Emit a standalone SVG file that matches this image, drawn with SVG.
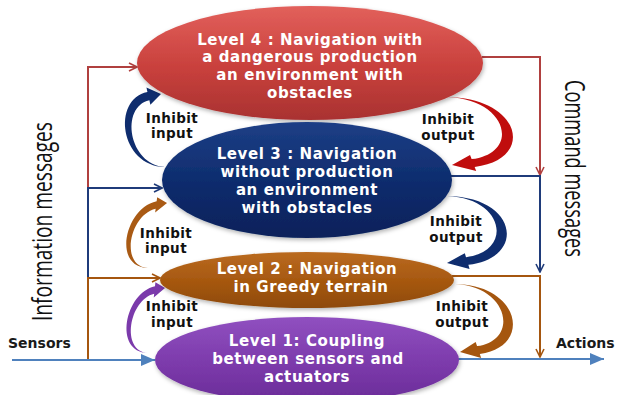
<svg xmlns="http://www.w3.org/2000/svg" width="617" height="395" viewBox="0 0 617 395">
<style>
  .node-text { font-family: "DejaVu Sans", "Verdana", sans-serif; font-weight: bold; font-size: 15px; letter-spacing: 0.6px; fill: #ffffff; text-anchor: middle; }
  .lbl { font-family: "DejaVu Sans", "Verdana", sans-serif; font-weight: bold; font-size: 13.5px; letter-spacing: 0.4px; fill: #111111; text-anchor: middle; }
  .io { font-family: "DejaVu Sans", "Verdana", sans-serif; font-weight: bold; font-size: 14px; fill: #1a1a1a; }
  .side { font-family: "Open Sans", "Liberation Sans", sans-serif; font-size: 28px; fill: #111111; }
  .ln { fill: none; stroke-width: 2; }
</style>
<defs>
  <filter id="sh" x="-10%" y="-10%" width="120%" height="130%">
    <feDropShadow dx="1" dy="2" stdDeviation="2" flood-color="#000" flood-opacity="0.3"/>
  </filter>
  <linearGradient id="gRed" x1="0" y1="0" x2="0" y2="1">
    <stop offset="0" stop-color="#e2605b"/>
    <stop offset="0.55" stop-color="#c8403c"/>
    <stop offset="1" stop-color="#a93231"/>
  </linearGradient>
  <linearGradient id="gNavy" x1="0" y1="0" x2="0" y2="1">
    <stop offset="0" stop-color="#1d3f86"/>
    <stop offset="0.55" stop-color="#0d2b6c"/>
    <stop offset="1" stop-color="#08215a"/>
  </linearGradient>
  <linearGradient id="gBrown" x1="0" y1="0" x2="0" y2="1">
    <stop offset="0" stop-color="#ba6a20"/>
    <stop offset="0.55" stop-color="#a5570f"/>
    <stop offset="1" stop-color="#8e4a0b"/>
  </linearGradient>
  <linearGradient id="gPurple" x1="0" y1="0" x2="0" y2="1">
    <stop offset="0" stop-color="#9050c0"/>
    <stop offset="0.55" stop-color="#7c3aab"/>
    <stop offset="1" stop-color="#6a2c98"/>
  </linearGradient>
  <marker id="mRed" viewBox="0 0 10 10" refX="9" refY="5" markerWidth="10" markerHeight="10" markerUnits="userSpaceOnUse" orient="auto">
    <path d="M1,1 L9,5 L1,9" fill="none" stroke="#b0403f" stroke-width="1.6"/>
  </marker>
  <marker id="mNavy" viewBox="0 0 10 10" refX="9" refY="5" markerWidth="10" markerHeight="10" markerUnits="userSpaceOnUse" orient="auto">
    <path d="M1,1 L9,5 L1,9" fill="none" stroke="#1f3b7a" stroke-width="1.6"/>
  </marker>
  <marker id="mBrown" viewBox="0 0 10 10" refX="9" refY="5" markerWidth="10" markerHeight="10" markerUnits="userSpaceOnUse" orient="auto">
    <path d="M1,1 L9,5 L1,9" fill="none" stroke="#a5560f" stroke-width="1.6"/>
  </marker>
  <marker id="mBlue" viewBox="0 0 10 10" refX="10" refY="5" markerWidth="14" markerHeight="12" markerUnits="userSpaceOnUse" orient="auto" preserveAspectRatio="none">
    <path d="M0,0 L10,5 L0,10 Z" fill="#4f81bd"/>
  </marker>
  <path id="arc" d="M0,0 C-46,-1 -50,-63 -12.7,-69.9 L-13.4,-74 L1,-68 L-10.6,-58 L-11.3,-62.1 C-42,-56 -37,-2 0,0 Z"/>
</defs>

<g id="connectors">
  <!-- information (left) -->
  <path class="ln" stroke="#b0403f" d="M88,188 V67 H137" marker-end="url(#mRed)"/>
  <path class="ln" stroke="#1f3b7a" d="M88,278 V188 H162" marker-end="url(#mNavy)"/>
  <path class="ln" stroke="#a5560f" d="M88,360 V278 H160" marker-end="url(#mBrown)"/>
  <path class="ln" stroke="#4f81bd" stroke-width="2.5" d="M12,360 H155" marker-end="url(#mBlue)"/>
  <!-- command (right) -->
  <path class="ln" stroke="#b0403f" d="M482,57 H540 V175" marker-end="url(#mRed)"/>
  <path class="ln" stroke="#1f3b7a" d="M451,176 H540 V272" marker-end="url(#mNavy)"/>
  <path class="ln" stroke="#a5560f" d="M452,276 H540 V357" marker-end="url(#mBrown)"/>
  <path class="ln" stroke="#4f81bd" stroke-width="2.5" d="M458,359 H604" marker-end="url(#mBlue)"/>
  <!-- inhibit input arcs -->
  <use href="#arc" fill="#0f2d6e" transform="matrix(0.98,0,0.0732,1.074,165,167)"/>
  <use href="#arc" fill="#a95a14" transform="matrix(0.794,0,-0.268,0.956,148,268)"/>
  <use href="#arc" fill="#7b3aab" transform="matrix(0.765,0,-0.239,0.956,148,353)"/>
  <!-- inhibit output arcs -->
  <use href="#arc" fill="#c00d0d" transform="matrix(-1.64,0,-0.0976,-1.0,447,97)"/>
  <use href="#arc" fill="#0f2d6e" transform="matrix(-1.556,0,-0.0229,-0.985,447,196)"/>
  <use href="#arc" fill="#a5560f" transform="matrix(-1.431,0,-0.0946,-1.0,455,284)"/>
</g>

<g id="level4">
  <ellipse cx="310" cy="63" rx="173" ry="57" fill="url(#gRed)" filter="url(#sh)"/>
  <text class="node-text" x="310" y="45">Level 4 : Navigation with</text>
  <text class="node-text" x="310" y="62">a dangerous production</text>
  <text class="node-text" x="310" y="80">an environment with</text>
  <text class="node-text" x="310" y="98">obstacles</text>
</g>

<g id="level3">
  <ellipse cx="307" cy="180" rx="145" ry="58" fill="url(#gNavy)" filter="url(#sh)"/>
  <text class="node-text" x="307" y="159">Level 3 : Navigation</text>
  <text class="node-text" x="307" y="177">without production</text>
  <text class="node-text" x="307" y="195">an environment</text>
  <text class="node-text" x="307" y="213">with obstacles</text>
</g>

<g id="level2">
  <ellipse cx="307" cy="280" rx="147" ry="28" fill="url(#gBrown)" filter="url(#sh)"/>
  <text class="node-text" x="307" y="274">Level 2 : Navigation</text>
  <text class="node-text" x="311" y="292">in Greedy terrain</text>
</g>

<g id="level1">
  <ellipse cx="307" cy="360" rx="152" ry="43" fill="url(#gPurple)" filter="url(#sh)"/>
  <text class="node-text" x="307" y="346">Level 1: Coupling</text>
  <text class="node-text" x="308" y="364">between sensors and</text>
  <text class="node-text" x="307" y="382">actuators</text>
</g>

<g id="labels">
  <text class="lbl" x="172" y="123">Inhibit</text>
  <text class="lbl" x="172" y="138">input</text>
  <text class="lbl" x="166" y="238">Inhibit</text>
  <text class="lbl" x="166" y="253">input</text>
  <text class="lbl" x="172" y="311">Inhibit</text>
  <text class="lbl" x="172" y="327">input</text>
  <text class="lbl" x="448" y="124">Inhibit</text>
  <text class="lbl" x="448" y="140">output</text>
  <text class="lbl" x="456" y="226">Inhibit</text>
  <text class="lbl" x="456" y="242">output</text>
  <text class="lbl" x="462" y="311">Inhibit</text>
  <text class="lbl" x="462" y="327">output</text>
  <text class="io" x="8" y="348">Sensors</text>
  <text class="io" x="556" y="348">Actions</text>
  <text class="side" transform="translate(52,321) rotate(-90)" textLength="199" lengthAdjust="spacingAndGlyphs">Information messages</text>
  <text class="side" transform="translate(565,80) rotate(90)" textLength="177" lengthAdjust="spacingAndGlyphs">Command messages</text>
</g>
</svg>
